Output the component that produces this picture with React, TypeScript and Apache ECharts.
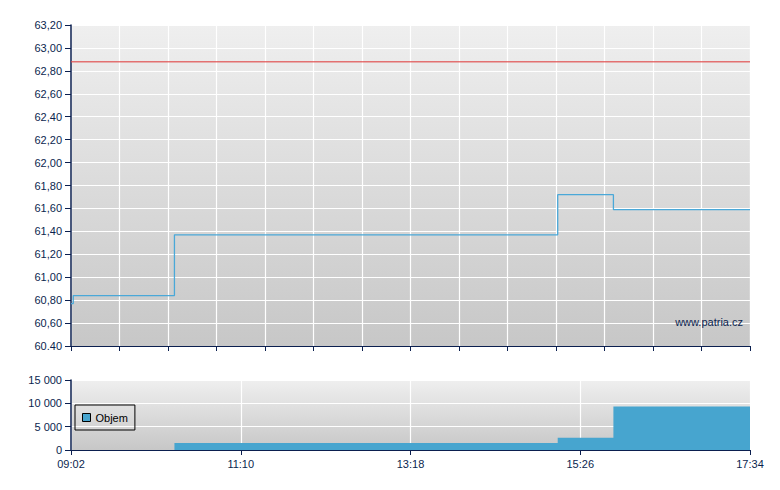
import React, { useEffect, useRef } from "react";
import * as echarts from "echarts";

// minutes since 09:02
const priceTimes = [0, 1.7, 78, 367, 409, 512];
const priceValues = [60.77, 60.84, 61.37, 61.72, 61.59, 61.59];
const prevCloseTimes = [0, 512];
const prevCloseValues = [62.88, 62.88];
const volumeTimes = [78, 367, 409, 512];
const volumeValues = [1500, 2600, 9300, 9300];
const volumeLabel = "Objem";
const watermark = "www.patria.cz";
const startMinutes = 9 * 60 + 2;

const NAVY = "#0b1f4f";
const FONT = "Liberation Sans, Arial, sans-serif";

function fmtTime(v: number) {
  const m = Math.round(startMinutes + v);
  const hh = Math.floor(m / 60);
  const mm = m % 60;
  return String(hh).padStart(2, "0") + ":" + String(mm).padStart(2, "0");
}

export default function App() {
  const ref = useRef<HTMLDivElement>(null);
  useEffect(() => {
    if (!ref.current) return;
    const chart = echarts.init(ref.current, null, { renderer: "svg" });
    const bg = () =>
      new echarts.graphic.LinearGradient(0, 0, 0, 1, [
        { offset: 0, color: "#efefef" },
        { offset: 1, color: "#c7c7c7" },
      ]);
    const option: any = {
      animation: false,
      backgroundColor: "#ffffff",
      textStyle: { fontFamily: FONT },
      grid: [
        { left: 71, right: 30, top: 25, height: 321, show: true, backgroundColor: bg(), borderWidth: 0 },
        { left: 71, right: 30, top: 380, height: 70, show: true, backgroundColor: bg(), borderWidth: 0 },
      ],
      legend: {
        data: [volumeLabel],
        left: 75,
        top: 405,
        orient: "vertical",
        padding: [7, 7, 7, 7],
        borderColor: "#000",
        borderWidth: 1,
        itemWidth: 8,
        itemHeight: 8,
        icon: "rect",
        itemStyle: { borderColor: "#000", borderWidth: 1 },
        textStyle: { fontSize: 11, color: "#000", fontFamily: FONT },
        selectedMode: false,
      },
      xAxis: [
        {
          type: "value",
          gridIndex: 0,
          min: 0,
          max: 512,
          interval: 512 / 14,
          axisLine: { show: true, lineStyle: { color: NAVY, width: 1 } },
          axisTick: { show: true, length: 5, lineStyle: { color: NAVY } },
          axisLabel: { show: false },
          splitLine: { show: true, lineStyle: { color: "#ffffff", width: 1.2 } },
        },
        {
          type: "value",
          gridIndex: 1,
          min: 0,
          max: 512,
          interval: 128,
          axisLine: { show: true, lineStyle: { color: NAVY, width: 1 } },
          axisTick: { show: true, length: 5, lineStyle: { color: NAVY } },
          axisLabel: {
            show: true,
            color: NAVY,
            fontSize: 11,
            fontFamily: FONT,
            margin: 8,
            formatter: (v: number) => fmtTime(v),
          },
          splitLine: { show: true, lineStyle: { color: "#ffffff", width: 1.2 } },
        },
      ],
      yAxis: [
        {
          type: "value",
          gridIndex: 0,
          min: 60.4,
          max: 63.2,
          interval: 0.2,
          axisLine: { show: true, lineStyle: { color: NAVY, width: 1.5 } },
          axisTick: { show: true, length: 6, lineStyle: { color: NAVY } },
          axisLabel: {
            color: NAVY,
            fontSize: 11,
            fontFamily: FONT,
            margin: 9,
            formatter: (v: number) =>
              Math.abs(v - 60.4) < 1e-6 ? v.toFixed(2) : v.toFixed(2).replace(".", ","),
          },
          splitLine: { show: true, lineStyle: { color: "#ffffff", width: 1.2 } },
        },
        {
          type: "value",
          gridIndex: 1,
          min: 0,
          max: 15000,
          interval: 5000,
          axisLine: { show: true, lineStyle: { color: NAVY, width: 1.5 } },
          axisTick: { show: true, length: 6, lineStyle: { color: NAVY } },
          axisLabel: {
            color: NAVY,
            fontSize: 11,
            fontFamily: FONT,
            margin: 9,
            formatter: (v: number) => String(v).replace(/\B(?=(\d{3})+(?!\d))/g, " "),
          },
          splitLine: { show: true, lineStyle: { color: "#ffffff", width: 1.2 } },
        },
      ],
      series: [
        {
          name: "prev",
          type: "line",
          xAxisIndex: 0,
          yAxisIndex: 0,
          data: prevCloseTimes.map((t, i) => [t, prevCloseValues[i]]),
          showSymbol: false,
          lineStyle: { color: "#e04848", width: 1.4, opacity: 0.75 },
          z: 3,
        },
        {
          name: "price",
          type: "line",
          xAxisIndex: 0,
          yAxisIndex: 0,
          step: "end",
          data: priceTimes.map((t, i) => [t, priceValues[i]]),
          showSymbol: false,
          lineStyle: { color: "#4aa8d8", width: 1.3 },
          z: 4,
        },
        {
          name: volumeLabel,
          type: "line",
          xAxisIndex: 1,
          yAxisIndex: 1,
          step: "end",
          data: volumeTimes.map((t, i) => [t, volumeValues[i]]),
          showSymbol: false,
          itemStyle: { color: "#47a5cf" },
          lineStyle: { width: 0, color: "#47a5cf" },
          areaStyle: { color: "#47a5cf", opacity: 1 },
          z: 4,
        },
      ],
      graphic: [
        {
          type: "text",
          right: 37,
          top: 316,
          style: { text: watermark, fill: NAVY, fontSize: 11, fontFamily: FONT },
          z: 10,
        },
      ],
    };
    chart.setOption(option);
    return () => chart.dispose();
  }, []);
  return (
    <div
      ref={ref}
      style={{ position: "fixed", left: 0, top: 0, width: 780, height: 490 }}
    />
  );
}
